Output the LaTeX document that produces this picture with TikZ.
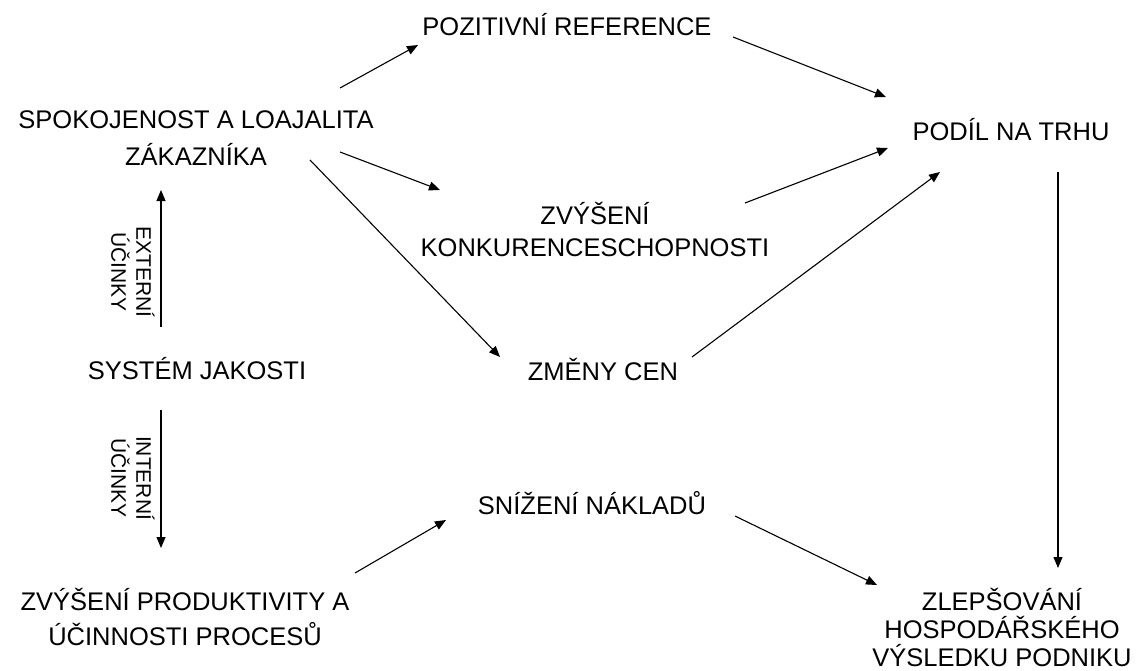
\documentclass[tikz,border=0pt]{standalone}
\usepackage{fontspec}
\setmainfont{Liberation Sans}
\usetikzlibrary{arrows.meta,calc}
\begin{document}
\begin{tikzpicture}[x=1pt,y=-1pt,
  lbl/.style={inner sep=0pt,align=center,font=\fontsize{25.5}{37}\selectfont},
  side/.style={inner sep=0pt,align=center,rotate=-90,font=\fontsize{21}{25}\selectfont},
  arr/.style={line width=1.1pt,-{Triangle[length=11pt,width=9pt]}}]
\useasboundingbox[fill=white] (0,0) rectangle (1136,670);
\node[lbl] (spok) at (196,138) {SPOKOJENOST A LOAJALITA\\ZÁKAZNÍKA};
\node[lbl] (poz) at (567,25) {POZITIVNÍ REFERENCE};
\node[lbl] (podil) at (1011,130) {PODÍL NA TRHU};
\node[lbl,font=\fontsize{25.5}{32}\selectfont] (zvys) at (595,229) {ZVÝŠENÍ\\KONKURENCESCHOPNOSTI};
\node[lbl] (system) at (197,369) {SYSTÉM JAKOSTI};
\node[lbl] (zmeny) at (603,369) {ZMĚNY CEN};
\node[lbl] (snizeni) at (592,503) {SNÍŽENÍ NÁKLADŮ};
\node[lbl,font=\fontsize{25.5}{35}\selectfont] (produkt) at (185,617) {ZVÝŠENÍ PRODUKTIVITY A\\ÚČINNOSTI PROCESŮ};
\node[lbl,font=\fontsize{25.5}{28}\selectfont] (zleps) at (1002,627) {ZLEPŠOVÁNÍ\\HOSPODÁŘSKÉHO\\VÝSLEDKU PODNIKU};
\node[side] (ext) at (133,272) {EXTERNÍ\\ÚČINKY};
\node[side] (int) at (133,478) {INTERNÍ\\ÚČINKY};
\draw[arr] ([shift={(144,-50)}]spok.center) -- ([shift={(-149,20)}]poz.center);
\draw[arr] ([shift={(166,12)}]poz.center) -- ([shift={(-125,-33)}]podil.center);
\draw[arr] ([shift={(144,14)}]spok.center) -- ([shift={(-155,-39)}]zvys.center);
\draw[arr] ([shift={(114,22)}]spok.center) -- ([shift={(-103,-12)}]zmeny.center);
\draw[arr] ([shift={(150,-26)}]zvys.center) -- ([shift={(-123,18)}]podil.center);
\draw[arr] ([shift={(89,-12)}]zmeny.center) -- ([shift={(-71,42)}]podil.center);
\draw[arr] ([shift={(47,42)}]podil.center) -- ([shift={(56,-59)}]zleps.center);
\draw[arr] ([shift={(143,13)}]snizeni.center) -- ([shift={(-125,-42)}]zleps.center);
\draw[arr] ([shift={(170,-44)}]produkt.center) -- ([shift={(-146,17)}]snizeni.center);
\draw[arr] ([shift={(-36,-42)}]system.center) -- ([shift={(-35,52)}]spok.center);
\draw[arr] ([shift={(-36,41)}]system.center) -- ([shift={(-24,-69)}]produkt.center);
\end{tikzpicture}
\end{document}
